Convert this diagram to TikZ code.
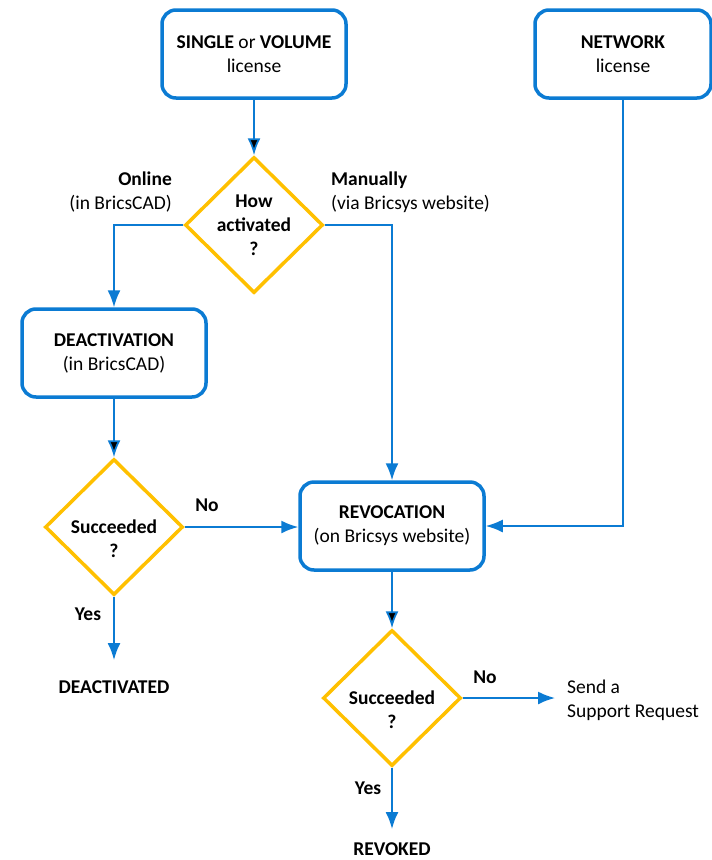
\documentclass[tikz,border=0pt]{standalone}
\usepackage{fontspec}
\setmainfont{Carlito}
\usepackage{tikz}
\usetikzlibrary{arrows.meta, shapes.geometric, positioning}

\definecolor{flowblue}{HTML}{0B7BD3}
\definecolor{askgold}{HTML}{FFC000}

\begin{document}
\begin{tikzpicture}[x=1pt, y=-1pt, font=\fontsize{19.5}{24}\selectfont,
    stepbox/.style={draw=flowblue, line width=3.5pt, rounded corners=14pt, minimum width=184pt, minimum height=88pt, align=center, fill=white},
    decision/.style={draw=askgold, line width=3.5pt, diamond, minimum width=138pt, minimum height=136pt, inner sep=0pt},
    asktext/.style={align=center, font=\fontsize{19.5}{24}\selectfont\bfseries},
    note/.style={inner sep=0pt},
    flow/.style={draw=flowblue, line width=1.8pt, -{Latex[length=17pt, width=13pt]}}]
    \useasboundingbox (0,0) rectangle (712,860);
    % boxes and questions
    \node[stepbox] (single) at (254,54) {\textbf{SINGLE} or \textbf{VOLUME}\\license};
    \node[stepbox, minimum width=176pt] (network) at (623,54) {\textbf{NETWORK}\\license};
    \node[decision, label={[asktext]center:{How\\activated\\?}}] (how) at (254,225) {};
    \node[stepbox] (deact) at (114,353) {\textbf{DEACTIVATION}\\(in BricsCAD)};
    \node[decision, label={[asktext, yshift=-12pt]center:{Succeeded\\?}}] (ok1) at (114,527) {};
    \node[stepbox] (revoc) at (392,526) {\textbf{REVOCATION}\\(on Bricsys website)};
    \node[decision, label={[asktext, yshift=-12pt]center:{Succeeded\\?}}] (ok2) at (392,698) {};
    \node[font=\fontsize{19.5}{24}\selectfont\bfseries] (deactivated) at (114,687) {DEACTIVATED};
    \node[font=\fontsize{19.5}{24}\selectfont\bfseries] (revoked) at (392,849) {REVOKED};
    \node[note, align=left, anchor=west] (support) at (567,700) {Send a\\Support Request};

    % branch labels
    \node[note, align=right, anchor=east] (online) at (172,192) {\textbf{Online}\\(in BricsCAD)};
    \node[note, align=left, anchor=west] (manual) at (331,192) {\textbf{Manually}\\(via Bricsys website)};
    \node[font=\fontsize{19.5}{24}\selectfont\bfseries] (no1) at (207,505) {No};
    \node[font=\fontsize{19.5}{24}\selectfont\bfseries] (yes1) at (88,614) {Yes};
    \node[font=\fontsize{19.5}{24}\selectfont\bfseries] (no2) at (485,677) {No};
    \node[font=\fontsize{19.5}{24}\selectfont\bfseries] (yes2) at (368,788) {Yes};

    \path[flow] (single) edge (how);
    \draw[flow] (how.west) -| (deact.north);
    \draw[flow] (how.east) -| (revoc.north);
    \path[flow] (deact) edge (ok1);
    \draw[flow] (ok1.east) -- (ok1.east -| revoc.west);
    \draw[flow] (network.south) |- (revoc.east);
    \draw[flow, shorten >=17pt] (ok1.south) -- (deactivated.north);
    \path[flow] (revoc) edge (ok2);
    \draw[flow, shorten >=12pt] (ok2.east) -- (ok2.east -| support.west);
    \draw[flow, shorten >=10pt] (ok2.south) -- (revoked.north);
\end{tikzpicture}
\end{document}
